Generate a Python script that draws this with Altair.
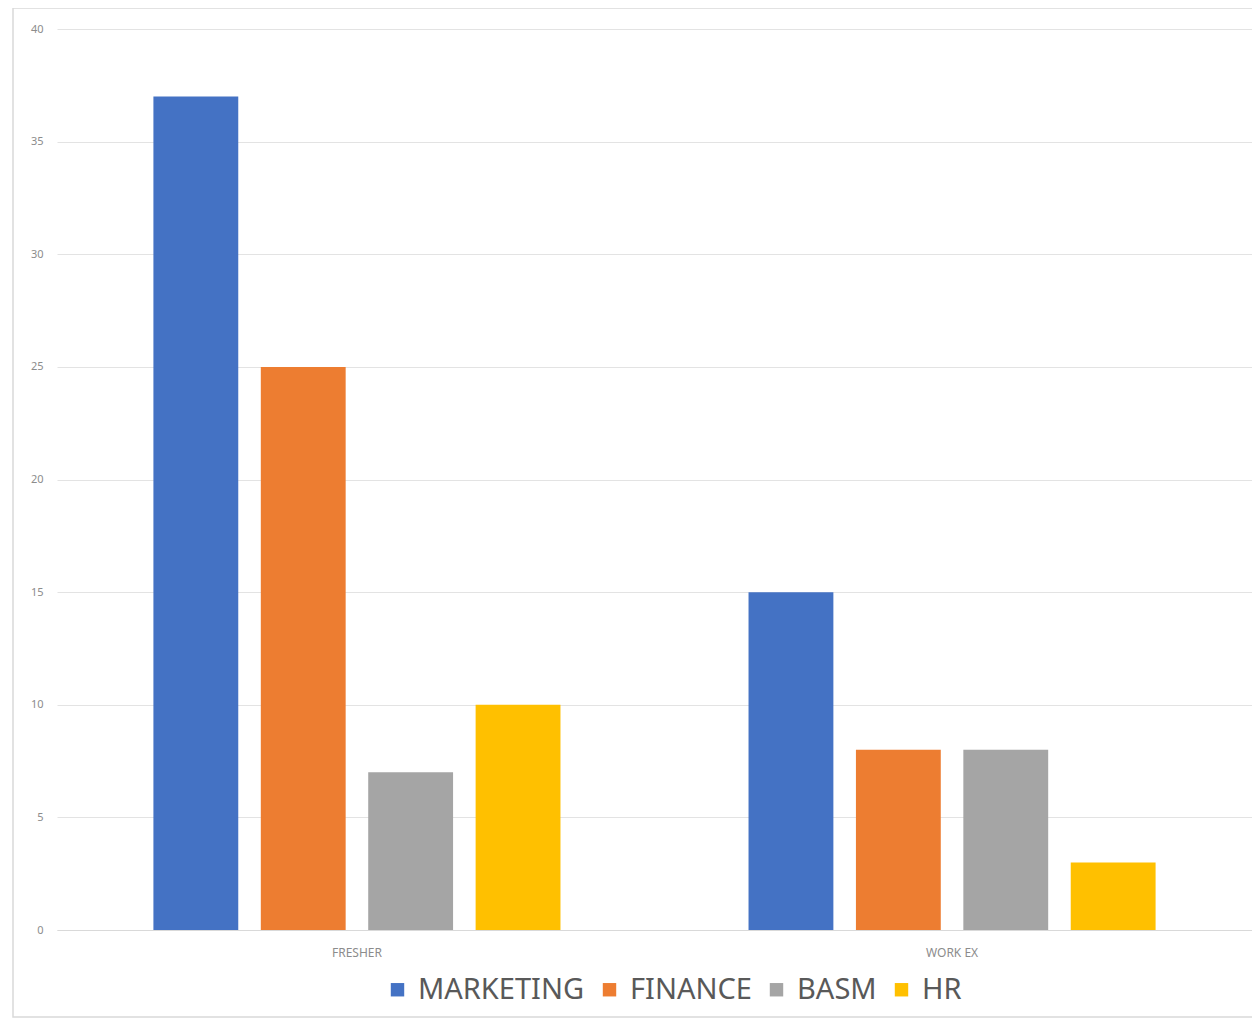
import altair as alt
import pandas as pd

categories = ["FRESHER", "WORK EX"]
series = ["MARKETING", "FINANCE", "BASM", "HR"]
colors = ["#4472C4", "#ED7D31", "#A5A5A5", "#FFC000"]
values = {
    "MARKETING": [37, 15],
    "FINANCE": [25, 8],
    "BASM": [7, 8],
    "HR": [10, 3],
}

rows = []
for s in series:
    for c, v in zip(categories, values[s]):
        rows.append({"category": c, "series": s, "value": v})
df = pd.DataFrame(rows)

FONT = "Noto Sans"
W, H = 1195, 901

bars = alt.Chart(df).mark_bar().encode(
    x=alt.X("category:N", sort=categories, title=None,
            scale=alt.Scale(paddingInner=0.316, paddingOuter=0.162),
            axis=alt.Axis(labelAngle=0, labelFontSize=12, labelColor="#8c8c8c",
                          labelFont=FONT, ticks=False, domain=True,
                          domainColor="#d9d9d9", labelPadding=17)),
    xOffset=alt.XOffset("series:N", sort=series,
                        scale=alt.Scale(paddingInner=0.21, paddingOuter=0)),
    y=alt.Y("value:Q", title=None,
            scale=alt.Scale(domain=[0, 40], nice=False),
            axis=alt.Axis(values=[0, 5, 10, 15, 20, 25, 30, 35, 40],
                          labelFontSize=11, labelColor="#8c8c8c", labelFont=FONT,
                          ticks=False, domain=False, gridColor="#e3e3e3",
                          labelPadding=14)),
    color=alt.Color("series:N", sort=series,
                    scale=alt.Scale(domain=series, range=colors),
                    legend=alt.Legend(title=None, orient="none", direction="horizontal",
                                      legendX=326, legendY=946,
                                      symbolType="square", symbolSize=180,
                                      symbolStrokeWidth=0,
                                      labelFontSize=29, labelColor="#595959",
                                      labelFont=FONT, labelLimit=0,
                                      columnPadding=10, labelOffset=6)),
)

border = alt.Chart(pd.DataFrame({"a": [0]})).mark_rect(
    fill=None, stroke="#d9d9d9", strokeWidth=1.5, clip=False
).encode(
    x=alt.value(-44), x2=alt.value(W + 10),
    y=alt.value(-21), y2=alt.value(H + 87),
)

chart = alt.layer(border, bars).properties(
    width=W, height=H,
    autosize=alt.AutoSizeParams(type="none"),
    padding={"left": 49, "top": 21, "right": 0, "bottom": 90},
).configure_view(stroke=None)

chart.save("out.html", embed_options={"renderer": "svg", "actions": False})
